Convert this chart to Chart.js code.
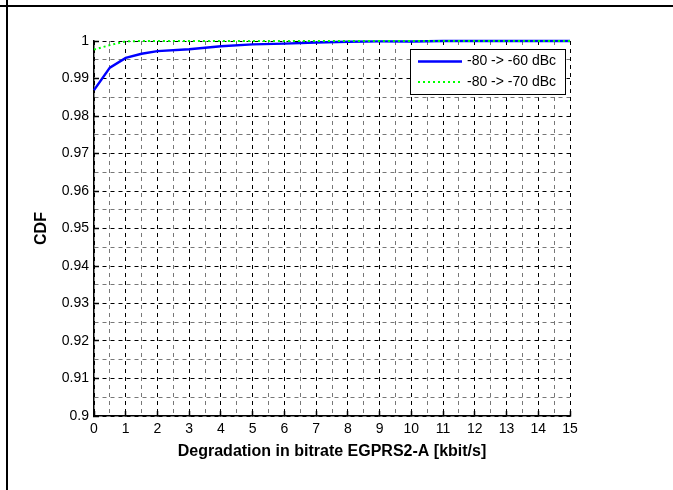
<!DOCTYPE html>
<html>
<head>
<meta charset="utf-8">
<script src="https://cdn.jsdelivr.net/npm/chart.js@4.4.1/dist/chart.umd.min.js"></script>
<style>
  html, body { margin: 0; padding: 0; background: #fff; }
  #wrap { position: relative; width: 673px; height: 490px; overflow: hidden; }
  #chart { position: absolute; left: 0; top: 0; }
  .rule { position: absolute; background: #000; }
</style>
</head>
<body>
<div id="wrap">
  <canvas id="chart" width="673" height="490"></canvas>
  <div class="rule" style="left:0;top:5px;width:673px;height:2px"></div>
  <div class="rule" style="left:6px;top:0;width:2px;height:490px"></div>
</div>
<script>
// valeurs
const xValues = [0, 0.5, 1, 1.5, 2, 3, 4, 5, 6, 7, 8, 9, 10, 11, 12, 13, 14, 15];
const cdf60 = [0.9869, 0.9929, 0.9955, 0.9966, 0.9973, 0.9978, 0.9986, 0.9991, 0.9993,
               0.9996, 0.9998, 0.9999, 0.9999, 1, 1, 1, 1, 1];
const cdf70 = [0.9977, 0.9989, 0.9999, 1, 1, 1, 1, 1, 1, 1, 1, 1, 1, 1, 1, 1, 1, 1];
const seriesLabels = ['-80 -> -60 dBc', '-80 -> -70 dBc'];

// graduations (majeures + mineures)
const xTicks = [0, 1, 2, 3, 4, 5, 6, 7, 8, 9, 10, 11, 12, 13, 14, 15];
const xMinorTicks = [0.5, 1.5, 2.5, 3.5, 4.5, 5.5, 6.5, 7.5, 8.5, 9.5, 10.5, 11.5, 12.5, 13.5, 14.5];
const yTicks = [0.9, 0.91, 0.92, 0.93, 0.94, 0.95, 0.96, 0.97, 0.98, 0.99, 1];
const yTickLabels = ['0.9', '0.91', '0.92', '0.93', '0.94', '0.95', '0.96', '0.97', '0.98', '0.99', '1'];
const yMinorTicks = [0.905, 0.915, 0.925, 0.935, 0.945, 0.955, 0.965, 0.975, 0.985, 0.995];

const FONT = "'Liberation Sans', Arial, Helvetica, sans-serif";

function toPoints(ys) {
  return xValues.map((x, i) => ({ x: x, y: ys[i] }));
}

function tickList(major, minor) {
  return major.map(v => ({ value: v, major: true }))
    .concat(minor.map(v => ({ value: v, major: false })))
    .sort((a, b) => a.value - b.value);
}

// légende encadrée dans le coin haut-droit
const boxLegend = {
  id: 'boxLegend',
  afterDatasetsDraw(chart) {
    const { ctx, chartArea } = chart;
    const w = 155, h = 45;
    const x0 = chartArea.right - 5 - w;
    const y0 = chartArea.top + 8;
    ctx.save();
    ctx.fillStyle = '#fff';
    ctx.fillRect(x0, y0, w, h);
    ctx.strokeStyle = '#000';
    ctx.lineWidth = 1;
    ctx.strokeRect(x0 + 0.5, y0 + 0.5, w, h);
    ctx.font = '14px ' + FONT;
    ctx.textBaseline = 'middle';
    ctx.fillStyle = '#000';
    seriesLabels.forEach((label, i) => {
      const ds = chart.data.datasets.find(d => d.label === label);
      const yy = y0 + 12.5 + i * 20.6;
      ctx.beginPath();
      ctx.strokeStyle = ds.borderColor;
      ctx.lineWidth = ds.borderWidth;
      ctx.setLineDash(ds.borderDash || []);
      ctx.moveTo(x0 + 8, yy);
      ctx.lineTo(x0 + 52, yy);
      ctx.stroke();
      ctx.setLineDash([]);
      ctx.fillText(label, x0 + 57, yy);
    });
    ctx.restore();
  }
};

const gridColor = ctx => (ctx.tick && ctx.tick.major ? '#000' : '#777');
const tickMarkColor = ctx => (ctx.tick && ctx.tick.major ? '#000' : 'rgba(0,0,0,0)');

new Chart(document.getElementById('chart'), {
  type: 'line',
  data: {
    datasets: [{
      label: seriesLabels[0],
      data: toPoints(cdf60),
      borderColor: '#0000ff',
      borderWidth: 2.5,
      pointRadius: 0,
      tension: 0,
      clip: false,
      order: 1
    }, {
      label: seriesLabels[1],
      data: toPoints(cdf70),
      borderColor: '#00ff00',
      borderWidth: 2,
      borderDash: [2, 3],
      pointRadius: 0,
      tension: 0,
      clip: false,
      order: 0
    }]
  },
  options: {
    responsive: false,
    animation: false,
    events: [],
    layout: { padding: { left: 0, top: 41, right: 103, bottom: 0 } },
    plugins: { legend: { display: false }, tooltip: { enabled: false } },
    scales: {
      x: {
        type: 'linear',
        min: 0,
        max: 15,
        afterBuildTicks: s => { s.ticks = tickList(xTicks, xMinorTicks); },
        afterFit: s => { s.height = 74; },
        ticks: {
          autoSkip: false,
          maxRotation: 0,
          padding: 10,
          color: '#000',
          font: { family: FONT, size: 14 },
          callback: (v, i, ticks) => (ticks[i].major ? String(xTicks[xTicks.indexOf(v)]) : '')
        },
        grid: {
          drawTicks: true, tickLength: -5, tickColor: tickMarkColor, tickWidth: 1.5,
          color: gridColor, lineWidth: 1
        },
        border: { display: true, color: '#000', width: 1.5, dash: [4, 4] },
        title: {
          display: true,
          text: 'Degradation in bitrate EGPRS2-A [kbit/s]',
          color: '#000',
          font: { family: FONT, size: 16, weight: 'bold' },
          padding: { top: 0, bottom: 29 }
        }
      },
      y: {
        type: 'linear',
        min: 0.9,
        max: 1,
        afterBuildTicks: s => { s.ticks = tickList(yTicks, yMinorTicks); },
        afterFit: s => { s.width = 94; },
        ticks: {
          autoSkip: false,
          padding: 10,
          color: '#000',
          font: { family: FONT, size: 14 },
          callback: (v, i, ticks) => {
            if (!ticks[i].major) return '';
            const k = yTicks.findIndex(t => Math.abs(t - v) < 1e-9);
            return yTickLabels[k];
          }
        },
        grid: {
          drawTicks: true, tickLength: -5, tickColor: tickMarkColor, tickWidth: 1.5,
          color: gridColor, lineWidth: 1
        },
        border: { display: true, color: '#000', width: 1.5, dash: [4, 4] },
        title: {
          display: true,
          text: 'CDF',
          color: '#000',
          font: { family: FONT, size: 16, weight: 'bold' },
          padding: { top: 32, bottom: 0 }
        }
      }
    }
  },
  plugins: [boxLegend]
});
</script>
</body>
</html>
